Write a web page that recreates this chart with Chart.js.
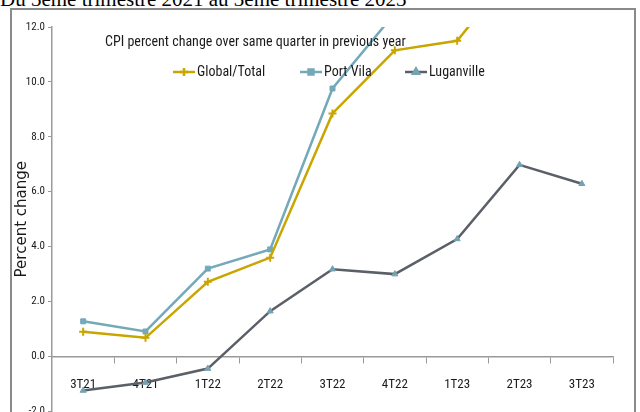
<!DOCTYPE html>
<html>
<head>
<meta charset="utf-8">
<script src="https://cdn.jsdelivr.net/npm/chart.js@4"></script>
<style>
  html, body { margin: 0; padding: 0; background: #fff; overflow: hidden; }
  body { width: 640px; height: 412px; position: relative; }
  #heading { position: absolute; left: 0; top: -13px; font-family: "Liberation Serif", "Times New Roman", serif; font-size: 21px; color: #000; white-space: nowrap; }
  #frame { position: absolute; left: 10px; top: 8px; width: 626px; height: 420px; border: 2px solid #8a8a8a; box-sizing: border-box; }
  #chart-wrap { position: absolute; left: 0; top: 0; width: 640px; height: 421px; }
</style>
</head>
<body>
<div id="heading">Du 3eme trimestre 2021 au 3eme trimestre 2023</div>
<div id="frame"></div>
<div id="chart-wrap"><canvas id="cpi-chart" width="640" height="421"></canvas></div>
<script>
const quarters = ['3T21', '4T21', '1T22', '2T22', '3T22', '4T22', '1T23', '2T23', '3T23'];
const globalTotal = [0.9, 0.68, 2.72, 3.6, 8.85, 11.15, 11.5, 14.3, 14.0];
const portVila = [1.28, 0.91, 3.2, 3.9, 9.76, 12.5, 13.2, 16.0, 15.0];
const luganville = [-1.24, -0.95, -0.44, 1.65, 3.18, 3.0, 4.28, 6.98, 6.29];
const chartTitle = 'CPI percent change over same quarter in previous year';
const yTitle = 'Percent change';

const narrow = "'Liberation Sans Narrow', 'Arial Narrow', 'Roboto Condensed', sans-serif";

// title + legend sit inside the plot area, so draw them ourselves
const innerLegend = {
    id: 'innerLegend',
    afterDraw(chart) {
        const ctx = chart.ctx;
        ctx.save();
        ctx.fillStyle = '#1a1a1a';
        ctx.font = '14px ' + narrow;
        ctx.textBaseline = 'middle';
        ctx.textAlign = 'left';
        ctx.fillText(chartTitle, 105, 42);

        const starts = [173, 300, 405];
        chart.data.datasets.forEach((ds, i) => {
            const x = starts[i];
            const y = 72;
            ctx.strokeStyle = ds.borderColor;
            ctx.lineWidth = 2.5;
            ctx.beginPath();
            ctx.moveTo(x, y);
            ctx.lineTo(x + 22, y);
            ctx.stroke();
            ctx.fillStyle = ds.pointBackgroundColor;
            ctx.strokeStyle = ds.pointBorderColor;
            Chart.helpers.drawPoint(ctx, {
                pointStyle: ds.pointStyle,
                radius: ds.pointRadius,
                borderWidth: ds.pointBorderWidth,
                rotation: 0
            }, x + 11, y);
            ctx.fillStyle = '#1a1a1a';
            ctx.fillText(ds.label, x + 24, y);
        });
        ctx.restore();
    }
};

const series = [
    { label: 'Global/Total', data: globalTotal, borderColor: '#c9a500', markerColor: '#c9a500', pointStyle: 'cross', pointRadius: 4, pointBorderWidth: 2 },
    { label: 'Port Vila', data: portVila, borderColor: '#73a9b9', markerColor: '#73a9b9', pointStyle: 'rect', pointRadius: 3.5, pointBorderWidth: 1 },
    { label: 'Luganville', data: luganville, borderColor: '#5b6068', markerColor: '#74a2b2', pointStyle: 'triangle', pointRadius: 3.5, pointBorderWidth: 1 }
];

new Chart(document.getElementById('cpi-chart').getContext('2d'), {
    type: 'line',
    data: {
        labels: quarters,
        datasets: series.map(s => ({
            label: s.label,
            data: s.data,
            borderWidth: 2.5,
            tension: 0,
            borderColor: s.borderColor,
            pointBackgroundColor: s.markerColor,
            pointBorderColor: s.markerColor,
            pointStyle: s.pointStyle,
            pointRadius: s.pointRadius,
            pointBorderWidth: s.pointBorderWidth
        }))
    },
    options: {
        responsive: false,
        animation: false,
        layout: { padding: { top: 27, right: 27, bottom: 2, left: 0 } },
        plugins: {
            legend: { display: false },
            title: { display: false },
            tooltip: { enabled: false }
        },
        scales: {
            x: {
                type: 'category',
                position: { y: 0 },
                offset: true,
                grid: { offset: true, drawOnChartArea: false, tickLength: 6, color: '#9a9a9a' },
                border: { color: '#9a9a9a', width: 1.5 },
                ticks: { color: '#1a1a1a', padding: 14, font: { family: narrow, size: 13 }, maxRotation: 0 }
            },
            y: {
                min: -2,
                max: 12,
                afterFit(scale) { scale.width = 52; },
                grid: { drawOnChartArea: false, tickLength: 4, color: '#9a9a9a' },
                border: { color: '#9a9a9a', width: 1.5 },
                ticks: {
                    stepSize: 2,
                    padding: 3,
                    color: '#1a1a1a',
                    font: { family: narrow, size: 11 },
                    callback: v => Number(v).toFixed(1)
                },
                title: {
                    display: true,
                    text: yTitle,
                    color: '#1a1a1a',
                    font: { family: "'DejaVu Sans', sans-serif", size: 15 },
                    padding: { top: 13, bottom: 0 }
                }
            }
        }
    },
    plugins: [innerLegend]
});
</script>
</body>
</html>
